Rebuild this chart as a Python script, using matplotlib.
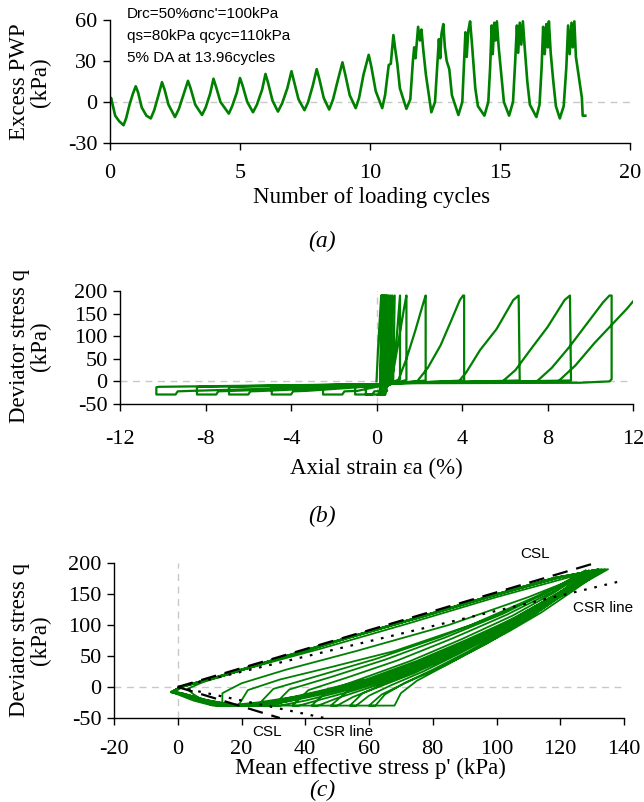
import matplotlib
matplotlib.use("Agg")
import matplotlib.pyplot as plt

plt.rcParams["axes.unicode_minus"] = False

# ---------------- data ----------------
# (a) excess pore water pressure vs number of loading cycles
cycles_a = [0.00, 0.04, 0.10, 0.20, 0.35, 0.52, 0.62, 0.75, 0.88, 0.99, 1.08, 1.22, 1.40, 1.57,
            1.70, 1.85, 2.00, 2.10, 2.25, 2.50,
            2.65, 2.82, 3.00, 3.10, 3.28, 3.54,
            3.68, 3.85, 3.98, 4.08, 4.25, 4.57,
            4.70, 4.88, 5.00, 5.10, 5.28, 5.50,
            5.65, 5.85, 5.98, 6.08, 6.25, 6.46,
            6.62, 6.82, 6.98, 7.08, 7.25, 7.48,
            7.62, 7.80, 7.95, 8.05, 8.22, 8.43,
            8.58, 8.75, 8.94, 9.05, 9.22, 9.45,
            9.58, 9.75, 9.95, 10.05, 10.22, 10.47,
            10.58, 10.72, 10.80, 10.90, 10.96, 11.05, 11.15, 11.40,
            11.55, 11.65, 11.70, 11.75, 11.85, 11.92, 11.98, 12.05, 12.15, 12.36,
            12.50, 12.58, 12.65, 12.70, 12.75, 12.82, 12.88, 12.95, 13.05, 13.15, 13.40,
            13.55, 13.62, 13.67, 13.72, 13.78, 13.85, 13.92, 13.98, 14.05, 14.15, 14.40,
            14.55, 14.62, 14.68, 14.72, 14.78, 14.83, 14.88, 14.95, 15.05, 15.15, 15.35,
            15.50, 15.58, 15.65, 15.70, 15.76, 15.82, 15.88, 15.95, 16.05, 16.15, 16.40,
            16.52, 16.60, 16.66, 16.72, 16.78, 16.84, 16.88, 16.95, 17.05, 17.15, 17.30,
            17.45, 17.55, 17.62, 17.68, 17.75, 17.80, 17.86, 17.92, 18.02, 18.15, 18.18, 18.28]
pwp_a = [0, 3, -2, -10, -14, -17, -12, -2, 6, 11.5, 7, -4, -10, -12,
         -6, 4, 14.5, 9, -2, -11,
         -5, 5, 15.5, 10, -2, -9.5,
         -4, 6, 17, 11, 0, -8.5,
         -3, 7, 17.5, 12, 0, -7.5,
         -2, 9, 20.5, 14, 1, -7,
         -1, 10, 22.5, 15, 2, -6,
         0, 12, 24, 17, 3, -5.5,
         2, 15, 29, 20, 5, -4.5,
         3, 20, 34.5, 26, 8, -4.5,
         5, 27, 28, 49, 40, 28, 10, -5,
         2, 30, 40, 32, 55, 45, 53, 38, 20, -7.5,
         0, 25, 46, 32, 50, 57, 40, 30, 24, 5, -9.5,
         0, 30, 51, 33, 52, 59, 43, 28, 10, -3, -10,
         0, 25, 56, 35, 58, 45, 59, 40, 20, 0, -10,
         0, 28, 56, 36, 58, 42, 59, 40, 15, -2, -11,
         -2, 25, 55, 35, 57, 40, 59, 36, 15, -3, -12,
         -3, 25, 56, 35, 58, 40, 59, 33, 20, 3, -10, -10]

# (b) deviator stress vs axial strain
strain_b = [0.00, 0.08,
            0.22, 0.18, 0.15, 0.18, 0.28, 0.24, 0.18, 0.21, 0.25, 0.22, 0.20, 0.23,
            0.34, 0.30, 0.22, 0.25, 0.30, 0.27, 0.25, 0.28, 0.40, 0.36, 0.30, 0.33,
            0.45, 0.40, 0.28, 0.31, 0.38, 0.35, 0.32, 0.35, 0.52, 0.47, 0.35, 0.38,
            0.58, 0.53, 0.40, 0.43, 0.48, 0.45, 0.30, 0.34, 0.66, 0.60, 0.25, 0.30,
            0.74, 0.68, 0.15, 0.25, 0.85, 0.78, 0.05,
            0.40, 0.70, 0.95, 1.05, 1.10, 1.10, 0.60, 0.10, -0.40, -0.50, -0.50, 0.30, 0.40, 0.50,
            0.70, 1.00, 1.30, 1.40, 1.40, 0.80, 0.20, -0.90, -1.00, -1.00, -0.20, -0.10, 0.50, 0.30,
            1.00, 1.40, 1.80, 2.20, 2.30, 2.30, 1.00, 0.20, -2.40, -2.50, -2.50, -1.60, -1.50, -0.90, 0.30,
            1.00, 1.90, 2.40, 3.00, 3.50, 3.90, 4.05, 4.10, 4.10, 1.00, 0.20,
            -4.80, -4.90, -4.90, -4.00, -3.90, -3.30, 0.30,
            1.00, 3.85, 4.20, 4.84, 5.62, 6.40, 6.65, 6.70, 1.00, 0.20,
            -6.80, -6.90, -6.90, -6.00, -5.90, -5.30, 0.30,
            1.00, 5.90, 6.50, 7.20, 8.00, 8.80, 9.05, 9.10, 1.00, 0.20,
            -8.30, -8.40, -8.40, -7.50, -7.40, -6.80, 0.30,
            1.00, 7.50, 8.20, 9.00, 9.80, 10.60, 10.90, 11.00, 11.00, 10.90, 9.50, 1.00, 0.20,
            -10.20, -10.30, -10.30, -9.40, -9.30, -8.70, 0.30,
            1.00, 8.50, 9.30, 10.20, 11.00, 11.70, 12.20]
q_b = [0, 80,
       190, 0, -30, 0, 190, 0, -30, 0, 190, 0, -30, 0,
       190, 0, -30, 0, 190, 0, -30, 0, 190, 0, -30, 0,
       190, 0, -30, 0, 190, 0, -30, 0, 190, 0, -30, 0,
       190, 0, -30, 0, 190, 0, -30, 0, 190, 0, -30, 0,
       190, 0, -30, 0, 190, 0, -30,
       -8, 0, 100, 160, 190, 5, -4, -7, -11, -13, -29, -29, -22, -8,
       0, 80, 165, 190, 3, -4, -7, -12, -13, -29, -29, -22, -21, -9,
       0, 50, 110, 175, 190, 2, -4, -7, -12, -13, -29, -29, -22, -21, -9,
       -3, 0, 30, 80, 135, 180, 190, 190, 2, -4, -6,
       -12, -13, -29, -29, -22, -21, -9,
       -3, 0, 20, 69, 116, 180, 190, 2, -4, -6,
       -12, -13, -29, -29, -22, -21, -9,
       -3, 0, 25, 70, 120, 180, 190, 2, -4, -6,
       -12, -13, -29, -29, -22, -21, -9,
       -3, 0, 30, 75, 125, 175, 190, 190, 5, 0, -3, -4, -6,
       -12, -13, -29, -29, -22, -21, -9,
       -3, 0, 35, 85, 125, 160, 188]

# (c) deviator stress vs mean effective stress (stress path)
p_c = [100, 118, 133,
       124, 114, 104, 93, 83, 75, 70, 68, 60,
       64, 72, 84, 97, 110, 121, 131,
       122, 112, 102, 91, 80, 71, 65, 62, 54,
       58, 67, 80, 94, 108, 120, 130,
       121, 111, 100, 88, 77, 67, 60, 56, 48,
       53, 63, 77, 92, 106, 119, 130,
       120, 110, 99, 86, 74, 63, 55, 50, 42,
       47, 58, 73, 89, 105, 118, 129,
       119, 109, 97, 84, 71, 59, 50, 44, 36,
       41, 53, 69, 86, 103, 117, 129,
       119, 108, 96, 82, 68, 55, 45, 38, 30,
       35, 48, 65, 84, 102, 116, 128,
       118, 107, 94, 80, 65, 51, 40, 32, 25,
       30, 44, 62, 82, 101, 116, 128,
       118, 106, 93, 78, 62, 47, 35, 26, 19,
       22, 32, 48, 68, 92, 112, 130,
       117, 105, 91, 76, 59, 43, 30, 20, 14,
       14, 20, 34, 56, 85, 110, 131,
       117, 104, 90, 74, 56, 39, 25, 15, 10,
       5, 3, 8, 22, 45, 72, 100, 132,
       120, 108, 94, 78, 62, 47, 34, 24, 14, 7, 2, -2,
       1, 12, 30, 52, 75, 98, 118, 133,
       121, 110, 96, 80, 64, 49, 36, 26, 16, 8, 2, -2,
       1, 13, 31, 53, 76, 99, 119, 132,
       119, 107, 92, 76, 60, 45, 32, 22, 12, 6, 1, -2,
       2, 14, 32, 54, 77, 100, 120, 134,
       122, 111, 97, 82, 66, 51, 38, 28, 18, 9, 2, -1,
       2, 13, 31, 53, 76, 99, 119, 134,
       120, 108, 93, 77, 61, 46, 33, 23, 13, 6, 1, -2,
       1, 12, 30, 52, 75, 98, 118, 135,
       123, 112, 98, 83, 67, 52, 39, 29, 19, 9, 2, -2,
       2, 14, 32, 54, 77, 100, 120, 133,
       121, 109, 95, 79, 63, 48, 35, 25, 15, 7, 1, -2,
       1, 13, 31, 53, 76, 99, 119, 132,
       118, 106, 91, 75, 59, 44, 31, 21, 11, 5, 0, -2]
q_c = [80, 140, 188,
       155, 120, 90, 60, 32, 10, -10, -30, -30,
       -12, 8, 35, 70, 110, 150, 188,
       152, 118, 88, 57, 28, 6, -12, -30, -30,
       -10, 10, 38, 72, 112, 150, 188,
       150, 116, 85, 53, 25, 3, -14, -30, -30,
       -8, 12, 40, 75, 113, 150, 188,
       148, 114, 83, 50, 22, 0, -16, -30, -30,
       -6, 14, 42, 77, 115, 152, 188,
       146, 112, 80, 47, 18, -3, -18, -30, -30,
       -5, 15, 43, 78, 116, 152, 188,
       145, 110, 78, 44, 15, -6, -20, -30, -30,
       -4, 16, 44, 80, 118, 153, 188,
       143, 108, 75, 41, 12, -8, -22, -30, -30,
       -3, 18, 45, 80, 118, 153, 188,
       142, 106, 73, 38, 9, -10, -23, -30, -30,
       -5, 12, 32, 58, 100, 145, 188,
       140, 104, 70, 35, 6, -12, -24, -30, -30,
       -10, 6, 28, 58, 100, 145, 188,
       139, 102, 68, 32, 3, -14, -25, -30, -28,
       -12, -3, 8, 30, 62, 102, 145, 190,
       150, 115, 80, 45, 15, -5, -20, -30, -30, -22, -12, -8,
       0, 16, 44, 78, 112, 147, 176, 190,
       152, 118, 83, 48, 18, -3, -19, -30, -30, -21, -11, -8,
       1, 17, 45, 79, 113, 148, 177, 189,
       148, 112, 77, 42, 12, -7, -22, -30, -30, -22, -12, -9,
       2, 18, 46, 80, 114, 149, 177, 190,
       153, 120, 86, 51, 20, -1, -18, -30, -30, -21, -11, -7,
       1, 17, 45, 79, 113, 148, 176, 189,
       150, 114, 79, 44, 14, -6, -21, -30, -30, -22, -12, -8,
       0, 16, 44, 78, 112, 147, 176, 190,
       155, 122, 88, 53, 22, 0, -17, -30, -30, -21, -11, -8,
       1, 18, 46, 80, 114, 149, 177, 189,
       151, 116, 81, 46, 16, -4, -20, -30, -30, -22, -12, -8,
       0, 16, 44, 78, 112, 147, 176, 190,
       148, 112, 77, 42, 12, -7, -22, -30, -30, -22, -12, -8]

# reference lines (end points) in (c)
csl_p = [[0, 131], [0, 32]]
csl_q = [[0, 200], [0, -50]]
csr_p = [[0, 140], [0, 46]]
csr_q = [[0, 172], [0, -50]]

# ---------------- styling ----------------
W, H = 644, 802
SERIF = ["Liberation Serif", "DejaVu Serif"]
SANS = ["Liberation Sans", "DejaVu Sans"]
GREEN = "#008000"
GREY = "#c8c8c8"
TICK_FS = 16
LAB_FS = 16.5

def fx(x):
    return x / W

def fy(y):
    return 1 - y / H

def axes_px(l, t, r, b):
    return fig.add_axes([fx(l), fy(b), (r - l) / W, (b - t) / H])

def style(ax, xpad):
    for s in ("top", "right"):
        ax.spines[s].set_visible(False)
    for s in ("left", "bottom"):
        ax.spines[s].set_linewidth(1.0)
    ax.tick_params(direction="out", length=5, width=1, labelsize=TICK_FS)
    ax.tick_params(axis="x", pad=xpad)
    ax.tick_params(axis="y", pad=4)
    for lab in ax.get_xticklabels() + ax.get_yticklabels():
        lab.set_family(SERIF)

def ylab(y, s):
    fig.text(fx(30), fy(y), s, family=SERIF, fontsize=LAB_FS, rotation=90,
             ha="center", va="center", multialignment="center", linespacing=1.05)

fig = plt.figure(figsize=(W / 100, H / 100), dpi=100)

# ---- (a)
ax = axes_px(110, 20, 630, 143)
ax.axhline(0, color=GREY, lw=1, ls=(0, (5, 4)), zorder=1)
ax.plot(cycles_a, pwp_a, color=GREEN, lw=1.9, zorder=2)
ax.set_xlim(0, 20)
ax.set_ylim(-30, 60)
ax.set_xticks([0, 5, 10, 15, 20])
ax.set_yticks([-30, 0, 30, 60])
style(ax, 10)
for i, s in enumerate(["Drc=50%σnc'=100kPa", "qs=80kPa qcyc=110kPa", "5% DA at 13.96cycles"]):
    fig.text(fx(127), fy(14 + 22 * i), s, family=SANS, fontsize=11, ha="left", va="center")
ylab(82, "Excess PWP\n(kPa)")
fig.text(fx(372), fy(197), "Number of loading cycles", family=SERIF, fontsize=LAB_FS, ha="center", va="center")
fig.text(fx(322), fy(241), "(a)", family=SERIF, fontsize=17, style="italic", ha="center", va="center")

# ---- (b)
ax = axes_px(120, 291, 633, 404)
ax.axhline(0, color=GREY, lw=1, ls=(0, (5, 4)), zorder=1)
ax.axvline(0, color=GREY, lw=1, ls=(0, (5, 4)), zorder=1)
ax.plot(strain_b, q_b, color=GREEN, lw=1.6, zorder=2)
ax.set_xlim(-12, 12)
ax.set_ylim(-50, 200)
ax.set_xticks([-12, -8, -4, 0, 4, 8, 12])
ax.set_yticks([-50, 0, 50, 100, 150, 200])
style(ax, 14)
ylab(346, "Deviator stress q\n(kPa)")
fig.text(fx(376), fy(468), "Axial strain εa (%)", family=SERIF, fontsize=LAB_FS, ha="center", va="center")
fig.text(fx(322), fy(516), "(b)", family=SERIF, fontsize=17, style="italic", ha="center", va="center")

# ---- (c)
ax = axes_px(114, 563, 624, 718)
ax.axhline(0, color=GREY, lw=1, ls=(0, (5, 4)), zorder=1)
ax.axvline(0, color=GREY, lw=1, ls=(0, (5, 4)), zorder=1)
ax.plot(p_c, q_c, color=GREEN, lw=1.3, zorder=2)
for pp, qq in zip(csl_p, csl_q):
    ax.plot(pp, qq, color="black", lw=1.6, ls=(0, (7, 4)), zorder=3, clip_on=False)
for pp, qq in zip(csr_p, csr_q):
    ax.plot(pp, qq, color="black", lw=1.6, ls=(0, (1.2, 3.5)), zorder=3, clip_on=False)
ax.set_xlim(-20, 140)
ax.set_ylim(-50, 200)
ax.set_xticks([-20, 0, 20, 40, 60, 80, 100, 120, 140])
ax.set_yticks([-50, 0, 50, 100, 150, 200])
style(ax, 11)
ax.text(112, 203, "CSL", family=SANS, fontsize=11, ha="center", va="bottom")
ax.text(124, 128, "CSR line", family=SANS, fontsize=11, ha="left", va="center", clip_on=False)
ax.text(28, -72, "CSL", family=SANS, fontsize=11, ha="center", va="center", clip_on=False)
ax.text(52, -72, "CSR line", family=SANS, fontsize=11, ha="center", va="center", clip_on=False)
ylab(640, "Deviator stress q\n(kPa)")
fig.text(fx(370), fy(768), "Mean effective stress p' (kPa)", family=SERIF, fontsize=LAB_FS, ha="center", va="center")
fig.text(fx(322), fy(790), "(c)", family=SERIF, fontsize=17, style="italic", ha="center", va="center")

fig.savefig("out.png", dpi=100)
